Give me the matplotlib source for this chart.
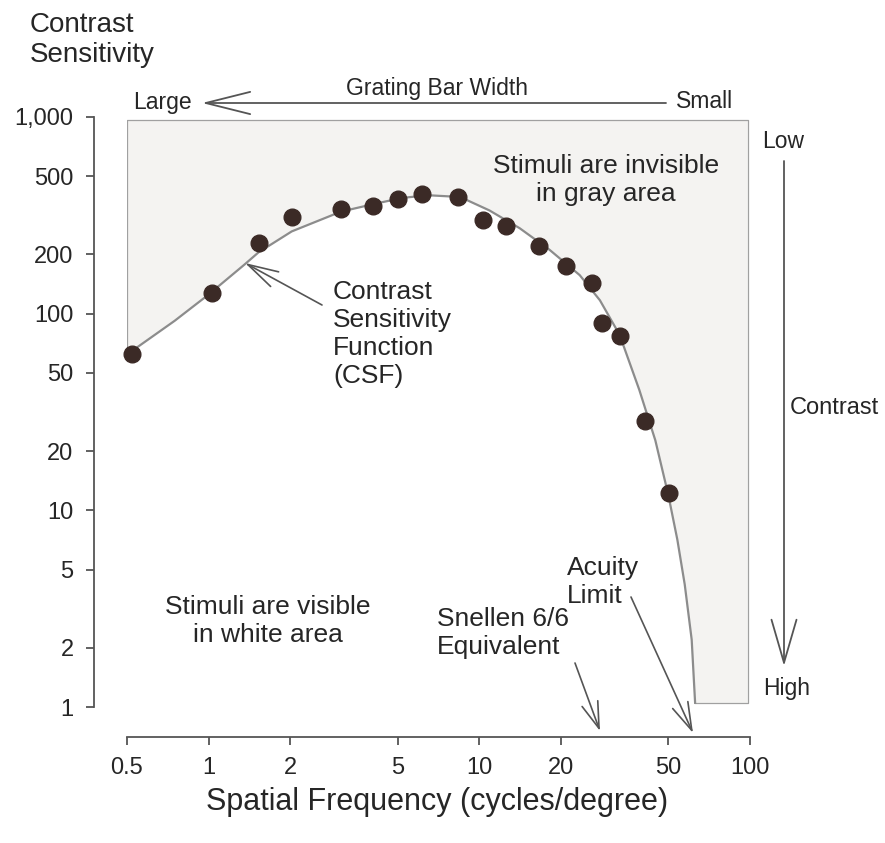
import matplotlib.pyplot as plt
from matplotlib.ticker import FixedLocator, NullLocator

plt.rcParams['font.family'] = ['Liberation Sans', 'DejaVu Sans']

W, H = 885, 843
TEXT = '#262626'
LINE = '#555555'

# measured contrast sensitivity (dots)
freq = [0.52, 1.03, 1.53, 2.03, 3.08, 4.04, 5.0, 6.13, 8.33, 10.3, 12.6,
        16.6, 21.0, 26.0, 28.5, 33.0, 40.8, 50.4]
sens = [62, 127, 229, 310, 340, 352, 383, 405, 392, 299, 279,
        221, 175, 143, 90, 77, 28.5, 12.2]

# the fitted CSF curve
csf_freq = [0.5, 0.75, 1.0, 1.36, 1.53, 2.03, 3.08, 4.04, 5.2, 6.5, 8.5,
            10.9, 14.1, 18.2, 23.5, 27.9, 33.0, 39.0, 44.7, 49.9, 53.9,
            57.4, 60.9, 62.7]
csf_sens = [62, 92, 125, 178, 205, 262, 330, 360, 388, 400, 392,
            335, 272, 211, 157, 117, 78, 41, 22.7, 12, 7.1,
            4.2, 2.2, 1.05]

# gray "invisible" region: box edges
gray_top = 965
gray_right = 98
gray_bottom = 1.05

yticks = [1, 2, 5, 10, 20, 50, 100, 200, 500, 1000]
ytick_labels = ['1', '2', '5', '10', '20', '50', '100', '200', '500', '1,000']
xticks = [0.5, 1, 2, 5, 10, 20, 50, 100]
xtick_labels = ['0.5', '1', '2', '5', '10', '20', '50', '100']


def px(x, y):
    """pixel position in the reference -> figure fraction"""
    return x / W, 1 - y / H


fig = plt.figure(figsize=(W / 100, H / 100), dpi=100)
ax = fig.add_axes([127 / W, 1 - 707 / H, 623 / W, 590 / H])
ax.set_xscale('log')
ax.set_yscale('log')
ax.set_xlim(0.5, 100)
ax.set_ylim(1, 1000)

# gray area above the curve
poly_x = [csf_freq[0]] + csf_freq + [gray_right, gray_right]
poly_y = [gray_top] + csf_sens + [gray_bottom, gray_top]
ax.fill(poly_x, poly_y, color='#f4f3f1', lw=0, zorder=1)
ax.plot([csf_freq[-1], gray_right, gray_right, csf_freq[0], csf_freq[0]],
        [gray_bottom, gray_bottom, gray_top, gray_top, csf_sens[0]],
        color='#a0a0a0', lw=0.9, zorder=2)

ax.plot(csf_freq, csf_sens, color='#8c8c8c', lw=1.6, zorder=3)
ax.plot(freq, sens, 'o', color='#3b2a26', markersize=12, zorder=4,
        clip_on=False)

# axes styling: detached left/bottom axes
for side in ['top', 'right']:
    ax.spines[side].set_visible(False)
ax.spines['left'].set_position(('outward', 24))
ax.spines['bottom'].set_position(('outward', 21.5))
for side in ['left', 'bottom']:
    ax.spines[side].set_color(LINE)
    ax.spines[side].set_linewidth(1.3)

ax.yaxis.set_major_locator(FixedLocator(yticks))
ax.yaxis.set_minor_locator(NullLocator())
ax.set_yticklabels(ytick_labels)
ax.xaxis.set_major_locator(FixedLocator(xticks))
ax.xaxis.set_minor_locator(NullLocator())
ax.set_xticklabels(xtick_labels)
ax.tick_params(axis='both', direction='out', length=5.5, width=1.3,
               color=LINE, labelcolor=TEXT, labelsize=17, pad=9)
ax.patch.set_visible(False)

# titles / labels
fig.text(*px(30, 40), 'Contrast\nSensitivity', fontsize=20, color=TEXT,
         ha='left', va='center', linespacing=1.22)
fig.text(*px(437, 802), 'Spatial Frequency (cycles/degree)', fontsize=22,
         color=TEXT, ha='center', va='center')

# grating bar width arrow
fig.text(*px(133, 102), 'Large', fontsize=16.5, color=TEXT, ha='left', va='center')
fig.text(*px(676, 102), 'Small', fontsize=16.5, color=TEXT, ha='left', va='center')
fig.text(*px(437, 88), 'Grating Bar Width', fontsize=16.5, color=TEXT,
         ha='center', va='center')
ax.annotate('', xy=px(202, 103), xytext=px(666, 103),
            xycoords='figure fraction', textcoords='figure fraction',
            arrowprops=dict(arrowstyle='->,head_length=3.2,head_width=0.8',
                            color=LINE, lw=1.3, mutation_scale=10,
                            shrinkA=0, shrinkB=0))

# contrast arrow on the right
fig.text(*px(762, 142), 'Low', fontsize=16.5, color=TEXT, ha='left', va='center')
fig.text(*px(763, 688), 'High', fontsize=16.5, color=TEXT, ha='left', va='center')
fig.text(*px(790, 408), 'Contrast', fontsize=17, color=TEXT, ha='left', va='center')
ax.annotate('', xy=px(784, 666), xytext=px(784, 161),
            xycoords='figure fraction', textcoords='figure fraction',
            arrowprops=dict(arrowstyle='->,head_length=3.1,head_width=0.9',
                            color=LINE, lw=1.3, mutation_scale=10,
                            shrinkA=0, shrinkB=0))

# region notes
fig.text(*px(606, 180), 'Stimuli are invisible\nin gray area', fontsize=19,
         color=TEXT, ha='center', va='center', linespacing=1.2)
fig.text(*px(268, 621), 'Stimuli are visible\nin white area', fontsize=19,
         color=TEXT, ha='center', va='center', linespacing=1.2)

# CSF label + arrow
fig.text(*px(333, 334), 'Contrast\nSensitivity\nFunction\n(CSF)', fontsize=19,
         color=TEXT, ha='left', va='center', linespacing=1.2)
ax.annotate('', xy=px(245, 263), xytext=px(322, 305),
            xycoords='figure fraction', textcoords='figure fraction',
            arrowprops=dict(arrowstyle='->,head_length=2.2,head_width=0.6',
                            color=LINE, lw=1.2, mutation_scale=10,
                            shrinkA=0, shrinkB=0))

# acuity / snellen notes
fig.text(*px(567, 582), 'Acuity\nLimit', fontsize=19, color=TEXT,
         ha='left', va='center', linespacing=1.2)
fig.text(*px(437, 633), 'Snellen 6/6\nEquivalent', fontsize=19, color=TEXT,
         ha='left', va='center', linespacing=1.2)
ax.annotate('', xy=px(600, 731), xytext=px(575, 663),
            xycoords='figure fraction', textcoords='figure fraction',
            arrowprops=dict(arrowstyle='->,head_length=1.9,head_width=0.6',
                            color=LINE, lw=1.2, mutation_scale=10,
                            shrinkA=0, shrinkB=0))
ax.annotate('', xy=px(693, 733), xytext=px(631, 597),
            xycoords='figure fraction', textcoords='figure fraction',
            arrowprops=dict(arrowstyle='->,head_length=2.0,head_width=0.6',
                            color=LINE, lw=1.2, mutation_scale=10,
                            shrinkA=0, shrinkB=0))

fig.savefig('out.png', dpi=100)
